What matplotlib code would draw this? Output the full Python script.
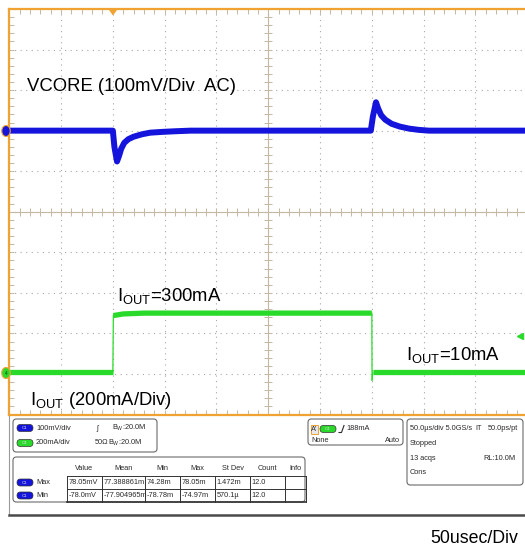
import matplotlib
matplotlib.use('Agg')
import matplotlib.pyplot as plt
import numpy as np
from matplotlib.patches import FancyBboxPatch, Ellipse, Rectangle, Polygon
from matplotlib import font_manager

# ---------------- data ----------------
vcore_t_us = [0, 100, 101.5, 104, 106, 108, 111, 115, 120, 128, 136, 148, 160, 175,
              349, 351, 354, 356, 359, 363, 369, 377, 386, 395, 405, 500]
vcore_mv = [0, 0, -40, -76, -62, -45, -30, -21, -15, -9, -5, -3, -1.5, 0,
            0, 35, 70, 55, 38, 27, 17, 10, 5, 2, 0, 0]

iout_t_us = [0, 100, 100.5, 110, 130, 350, 350.2, 351, 500]
iout_ma = [10, 10, 288, 296, 300, 300, -30, 10, 10]

trig_time_us = 100
trig_level_ma = 188

ch_badges = ['C1', 'C4']
ch_scales = ['100mV/div', '200mA/div']
ch_terms = ['ʃ', '50Ω']
ch_bw = ['B$_\\mathrm{W}$:20.0M', 'B$_\\mathrm{W}$:20.0M']

meas_cols = ['Value', 'Mean', 'Min', 'Max', 'St Dev', 'Count', 'Info']
meas_rows = ['Max', 'Min']
meas_vals = [['78.05mV', '77.388861m', '74.28m', '78.05m', '1.472m', '12.0', ''],
             ['-78.0mV', '-77.904965m', '-78.78m', '-74.97m', '570.1µ', '12.0', '']]

trig_info = ['A\'', 'C4', '188mA', 'None', 'Auto']
horiz_info = ['50.0µs/div 5.0GS/s', 'IT', '50.0ps/pt', 'Stopped', '13 acqs', 'RL:10.0M', 'Cons']

# ---------------- style ----------------
names = {f.name for f in font_manager.fontManager.ttflist}
SMALL = 'Liberation Sans Narrow' if 'Liberation Sans Narrow' in names else 'Liberation Sans'
plt.rcParams['font.family'] = ['Liberation Sans', 'DejaVu Sans']
plt.rcParams['mathtext.fontset'] = 'custom'
plt.rcParams['mathtext.rm'] = 'Liberation Sans'
plt.rcParams['mathtext.it'] = 'Liberation Sans'

ORANGE = '#f0a232'
BLUE = '#1414dc'
GREEN = '#2ada2a'
GRID = '#a8a8a8'
CENTER = '#c4b8a4'
TXT = '#2a2a2a'

W, H = 525, 551
fig = plt.figure(figsize=(W / 100, H / 100), dpi=100)
fig.patch.set_facecolor('white')

left, right, top, bot = 9.25, 527.25, 9.0, 414.5
ax = fig.add_axes([left / W, (H - bot) / H, (right - left) / W, (bot - top) / H])
ax.set_xlim(0, 500)
ax.set_ylim(-700, 300)   # VCORE: 100 mV/div, ground at div 7
ax.set_xticks(np.arange(0, 501, 50))
ax.set_yticks(np.arange(-700, 301, 100))
ax.set_xticks(np.arange(0, 501, 10), minor=True)
ax.set_yticks(np.arange(-700, 301, 20), minor=True)
ax.tick_params(which='both', direction='in', length=3.5, width=0.7, color=CENTER,
               top=True, bottom=True, left=True, right=True,
               labelleft=False, labelbottom=False)
ax.grid(True, which='major', color=GRID, linestyle=(0, (1, 4)), lw=0.8)
for s in ax.spines.values():
    s.set_color(ORANGE)
    s.set_linewidth(1.6)
ax.axvline(250, color=CENTER, lw=0.8)
ax.axhline(-200, color=CENTER, lw=0.8)
tk = np.arange(0, 501, 10)
ax.plot(tk, np.full(tk.shape, -200.0), ls='none', marker='|', ms=6, mew=0.7, color=CENTER)
tv = np.arange(-700, 301, 20)
ax.plot(np.full(tv.shape, 250.0), tv, ls='none', marker='_', ms=6, mew=0.7, color=CENTER)

# VCORE trace
ax.plot(vcore_t_us, vcore_mv, color=BLUE, lw=4.3, solid_joinstyle='round', zorder=5)

# IOUT trace on second scale: 200 mA/div, ground at div 1
ax2 = ax.twinx()
ax2.set_ylim(-200, 1800)
ax2.axis('off')
t = np.array(iout_t_us, float)
v = np.array(iout_ma, float)
slope = np.abs(np.diff(v) / np.diff(t))
run_t, run_v = [t[0]], [v[0]]
for i in range(len(t) - 1):
    if slope[i] > 20:
        if len(run_t) > 1:
            ax2.plot(run_t, run_v, color=GREEN, lw=3.8, solid_capstyle='butt', zorder=5)
        ax2.plot(t[i:i + 2], v[i:i + 2], color=GREEN, lw=0.9, zorder=5)
        run_t, run_v = [t[i + 1]], [v[i + 1]]
    else:
        run_t.append(t[i + 1]); run_v.append(v[i + 1])
if len(run_t) > 1:
    ax2.plot(run_t, run_v, color=GREEN, lw=3.8, solid_capstyle='butt', zorder=5)
ax2.plot([493], [trig_level_ma], marker='<', ms=5, color=GREEN, ls='none', clip_on=False)

# ---------------- overlay in pixel coordinates ----------------
ov = fig.add_axes([0, 0, 1, 1], zorder=10)
ov.set_xlim(0, W)
ov.set_ylim(H, 0)
ov.axis('off')
ov.patch.set_alpha(0)

# channel markers and trigger marker
ov.add_patch(Ellipse((6, 131), 8.5, 11, fc=BLUE, ec=ORANGE, lw=0.8))
ov.add_patch(Ellipse((6, 373), 8.5, 11, fc=GREEN, ec=ORANGE, lw=0.8))
ov.text(6, 373.5, '4', fontsize=3.5, ha='center', va='center', color='#114411')
ov.add_patch(Polygon([(109, 10), (117, 10), (113, 15.5)], closed=True, fc=ORANGE, ec='none'))

# annotations
big = 13.3
ov.text(27, 91, 'VCORE (100mV/Div  AC)', fontsize=big, color='black', va='baseline')
ov.text(117, 301, r'I$_{\mathrm{OUT}}$=300mA', fontsize=big, color='black', va='baseline')
ov.text(406, 360, r'I$_{\mathrm{OUT}}$=10mA', fontsize=big, color='black', va='baseline')
ov.text(30, 405, r'I$_{\mathrm{OUT}}$ (200mA/Div)', fontsize=big, color='black', va='baseline')
ov.text(430, 543, '50usec/Div', fontsize=12.8, color='black', va='baseline')

# bottom info panel
ov.plot([8.5, 8.5], [416, 515], color='#9a9a9a', lw=0.8)
ov.plot([8.5, 530], [515, 515], color='#4a4a4a', lw=1.8)


def box(x, y, w, h):
    ov.add_patch(FancyBboxPatch((x, y), w, h, boxstyle='round,pad=0,rounding_size=3.5',
                                fc='white', ec='#6a6a6a', lw=0.8))


def badge(x, y, label, color):
    ov.add_patch(FancyBboxPatch((x, y - 3.5), 16, 7, boxstyle='round,pad=0,rounding_size=3.5',
                                fc=color, ec='#333333', lw=0.5))
    ov.text(x + 8, y + 0.2, label, fontsize=3.2, ha='center', va='center', color='#dddddd',
            family=SMALL)


fs = 5.3
box(13, 419, 144, 33)
for i, yy in enumerate([428, 443]):
    badge(17, yy, ch_badges[i], BLUE if i == 0 else GREEN)
    ov.text(36, yy, ch_scales[i], fontsize=fs, va='center', color=TXT, family=SMALL)
    ov.text(96 if i == 0 else 95, yy, ch_terms[i], fontsize=fs, va='center', color=TXT, family=SMALL)
    ov.text(112 if i == 0 else 108, yy, ch_bw[i], fontsize=fs, va='center', color=TXT, family=SMALL)

box(13, 457, 292, 45)
col_edges = [67, 102, 145, 180, 215, 250, 285, 306]
row_edges = [476, 489, 502]
for j, name in enumerate(meas_cols):
    ov.text((col_edges[j] + col_edges[j + 1]) / 2, 468, name, fontsize=fs, ha='center',
            va='center', color=TXT, family=SMALL)
for xe in col_edges:
    ov.plot([xe, xe], [row_edges[0], row_edges[-1]], color='#333333', lw=0.7)
for k, ye in enumerate(row_edges):
    ov.plot([col_edges[0], col_edges[-1]], [ye, ye], color='#333333', lw=0.7 if k < 2 else 1.2)
for r, rname in enumerate(meas_rows):
    yy = (row_edges[r] + row_edges[r + 1]) / 2
    badge(17, yy, 'C1', BLUE)
    ov.text(36, yy, rname, fontsize=fs, va='center', color=TXT, family=SMALL)
    for j, val in enumerate(meas_vals[r]):
        ov.text(col_edges[j] + 1.5, yy, val, fontsize=fs, va='center', color=TXT, family=SMALL)

box(308, 419, 95, 26)
ov.add_patch(Rectangle((310.5, 424.5), 7.5, 9, fc='#e8e8e8', ec=ORANGE, lw=0.7))
ov.text(314.2, 429.2, trig_info[0], fontsize=fs, ha='center', va='center', color=TXT, family=SMALL)
badge(320, 429, trig_info[1], GREEN)
ov.plot([339, 341.5, 344], [432.5, 432.5, 425.5], color=TXT, lw=0.8)
ov.text(346, 429, trig_info[2], fontsize=fs, va='center', color=TXT, family=SMALL)
ov.text(311, 441, trig_info[3], fontsize=fs, va='center', color=TXT, family=SMALL)
ov.text(400, 441, trig_info[4], fontsize=fs, va='center', ha='right', color=TXT, family=SMALL)

box(407, 419, 116, 66)
ov.text(410, 429, horiz_info[0], fontsize=fs, va='center', color=TXT, family=SMALL)
ov.text(475, 429, horiz_info[1], fontsize=fs, va='center', color=TXT, family=SMALL)
ov.text(488, 429, horiz_info[2], fontsize=fs, va='center', color=TXT, family=SMALL)
ov.text(410, 443.5, horiz_info[3], fontsize=fs, va='center', color=TXT, family=SMALL)
ov.text(410, 458, horiz_info[4], fontsize=fs, va='center', color=TXT, family=SMALL)
ov.text(483, 458, horiz_info[5], fontsize=fs, va='center', color=TXT, family=SMALL)
ov.text(410, 473, horiz_info[6], fontsize=fs, va='center', color=TXT, family=SMALL)

fig.savefig('out.png', dpi=100, facecolor='white')
